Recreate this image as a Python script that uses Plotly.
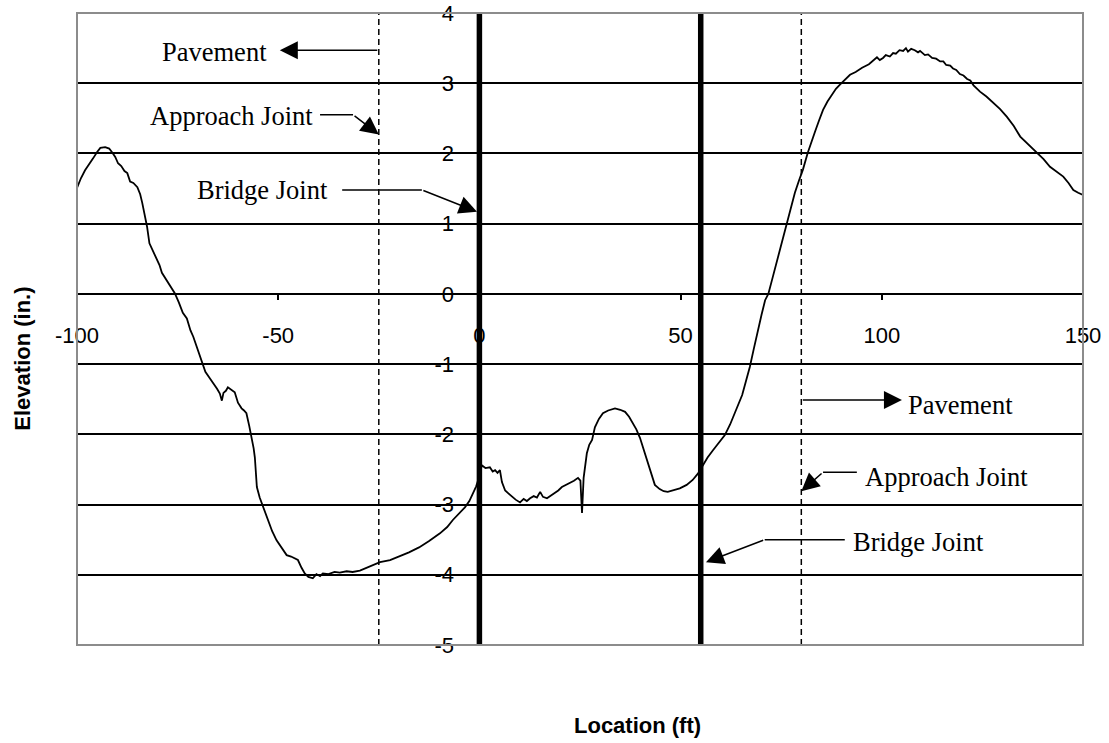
import plotly.graph_objects as go

# elevation profile
location_ft = [
    -100.0, -99.0, -98.0, -97.0, -96.0, -95.0, -94.2, -93.0, -92.0, -91.2,
    -90.5, -89.8, -89.0, -88.2, -87.5, -86.8, -86.0, -85.0, -84.3, -83.8,
    -83.2, -82.6, -82.0, -81.5, -80.8, -80.1, -79.5, -78.9, -78.0, -76.9,
    -75.7, -74.7, -73.7, -72.7, -71.8, -71.1, -70.2, -69.4, -68.8, -68.1,
    -67.0, -66.1, -65.2, -64.5, -64.0, -63.6, -63.0, -62.5, -61.7, -60.8,
    -60.0, -59.1, -58.5, -57.9, -57.2, -56.6, -56.1, -55.8, -55.5, -55.3,
    -54.6, -54.1, -53.4, -52.6, -51.5, -50.4, -49.2, -47.9, -46.8, -45.6,
    -45.1, -44.2, -43.4, -42.5, -41.4, -40.5, -39.6, -38.9, -37.5, -36.0,
    -34.7, -33.0, -31.5, -29.7, -28.0, -26.4, -24.7, -22.2, -20.0, -17.5,
    -15.0, -12.5, -9.8, -8.0, -6.6, -5.0, -3.6, -2.5, -1.6, -0.8,
    -0.3, 0.2, 0.6, 1.5, 2.6, 3.3, 3.9, 4.5, 5.1, 5.6,
    6.4, 7.2, 8.1, 9.0, 10.1, 11.0, 11.8, 12.6, 13.5, 14.3,
    15.1, 15.8, 16.8, 17.8, 18.8, 19.6, 20.5, 21.5, 22.5, 23.5,
    24.5, 25.1, 25.5, 25.9, 26.7, 27.3, 28.0, 28.7, 29.7, 30.7,
    32.0, 33.7, 35.0, 36.2, 37.2, 38.2, 39.0, 39.9, 40.8, 41.6,
    42.6, 43.6, 44.8, 45.8, 46.8, 48.0, 49.8, 51.5, 53.0, 54.3,
    55.5, 56.7, 58.0, 59.5, 61.0, 62.3, 63.5, 64.4, 65.3, 66.2,
    67.2, 68.2, 69.2, 70.1, 71.0, 71.8, 73.0, 74.2, 75.3, 76.4,
    77.4, 78.4, 79.4, 80.4, 81.6, 82.5, 83.4, 84.4, 85.4, 86.5,
    87.6, 88.6, 89.6, 90.8, 92.1, 93.5, 95.1, 96.8, 98.8, 99.5,
    100.3, 101.0, 102.0, 102.8, 103.5, 104.4, 105.3, 106.0, 106.5, 107.3,
    108.2, 109.0, 109.5, 110.7, 111.5, 112.5, 113.5, 114.5, 115.3, 116.0,
    117.0, 117.7, 118.5, 119.4, 120.3, 121.2, 122.0, 122.8, 124.4, 126.0,
    127.7, 129.4, 131.1, 132.8, 134.4, 136.5, 138.6, 140.2, 141.8, 143.5,
    145.1, 146.4, 147.6, 148.8, 150.0,
]
elevation_in = [
    1.51, 1.65, 1.76, 1.84, 1.93, 2.02, 2.08, 2.09, 2.07, 2.01,
    1.95, 1.86, 1.82, 1.75, 1.72, 1.60, 1.58, 1.52, 1.42, 1.30,
    1.12, 0.96, 0.72, 0.66, 0.58, 0.49, 0.41, 0.30, 0.22, 0.13,
    0.01, -0.12, -0.27, -0.35, -0.52, -0.61, -0.76, -0.90, -0.98, -1.11,
    -1.20, -1.27, -1.35, -1.42, -1.52, -1.41, -1.38, -1.33, -1.36, -1.40,
    -1.55, -1.63, -1.66, -1.70, -1.88, -2.04, -2.20, -2.33, -2.55, -2.75,
    -2.90, -2.98, -3.10, -3.22, -3.38, -3.51, -3.62, -3.72, -3.74, -3.78,
    -3.79, -3.90, -3.98, -4.03, -4.05, -3.99, -4.02, -3.98, -3.99, -3.96,
    -3.97, -3.95, -3.96, -3.94, -3.90, -3.87, -3.82, -3.79, -3.74, -3.68,
    -3.61, -3.52, -3.41, -3.32, -3.22, -3.13, -3.04, -2.95, -2.84, -2.74,
    -2.65, -2.52, -2.44, -2.48, -2.47, -2.53, -2.51, -2.55, -2.51, -2.68,
    -2.80, -2.84, -2.89, -2.93, -2.97, -2.92, -2.95, -2.91, -2.88, -2.90,
    -2.82, -2.89, -2.91, -2.87, -2.84, -2.80, -2.75, -2.72, -2.70, -2.66,
    -2.62, -2.66, -3.12, -2.62, -2.27, -2.15, -2.08, -1.90, -1.78, -1.70,
    -1.66, -1.63, -1.65, -1.68, -1.75, -1.84, -1.93, -2.05, -2.22, -2.37,
    -2.56, -2.72, -2.78, -2.81, -2.82, -2.80, -2.77, -2.72, -2.65, -2.56,
    -2.44, -2.33, -2.23, -2.12, -2.01, -1.86, -1.70, -1.57, -1.44, -1.25,
    -1.04, -0.78, -0.51, -0.30, -0.09, 0.00, 0.26, 0.53, 0.78, 1.03,
    1.24, 1.44, 1.61, 1.77, 2.01, 2.17, 2.31, 2.47, 2.62, 2.74,
    2.84, 2.92, 2.98, 3.05, 3.12, 3.16, 3.22, 3.27, 3.37, 3.33,
    3.36, 3.40, 3.38, 3.43, 3.42, 3.47, 3.46, 3.50, 3.45, 3.49,
    3.47, 3.44, 3.46, 3.40, 3.41, 3.36, 3.35, 3.31, 3.31, 3.26,
    3.25, 3.21, 3.19, 3.13, 3.11, 3.06, 3.04, 2.97, 2.88, 2.81,
    2.72, 2.63, 2.52, 2.39, 2.24, 2.12, 2.01, 1.92, 1.81, 1.74,
    1.67, 1.58, 1.48, 1.44, 1.41,
]

x_ticks = [-100, -50, 0, 50, 100, 150]
y_ticks = [-5, -4, -3, -2, -1, 0, 1, 2, 3, 4]
bridge_joints = [0, 55]
approach_joints = [-25, 80]

SERIF = "Liberation Serif"
SANS = "Liberation Sans"

fig = go.Figure()
fig.add_trace(go.Scatter(
    x=location_ft, y=elevation_in, mode="lines",
    line=dict(color="black", width=1.8), showlegend=False, hoverinfo="skip",
))

shapes = []
for xj in bridge_joints:
    shapes.append(dict(type="line", xref="x", yref="y", x0=xj, x1=xj, y0=-5, y1=4,
                       line=dict(color="black", width=5.5)))
for xj in approach_joints:
    shapes.append(dict(type="line", xref="x", yref="y", x0=xj, x1=xj, y0=-5, y1=4,
                       line=dict(color="black", width=1.5, dash="6px,4px")))

# plot border
shapes.append(dict(type="rect", xref="x domain", yref="y domain", x0=0, x1=1, y0=0, y1=1,
                   line=dict(color="#8c8c8c", width=2)))

# label text, arrow elbows and arrow tips
labels = [
    ("Pavement", -65.8, 3.44),
    ("Approach Joint", -61.7, 2.54),
    ("Bridge Joint", -54.0, 1.48),
    ("Pavement", 119.6, -1.58),
    ("Approach Joint", 116.1, -2.61),
    ("Bridge Joint", 109.0, -3.54),
]
elbows = [  # horizontal leader segments: x0, x1, y
    (-39.6, -31.4, 2.55),
    (-34.1, -14.3, 1.48),
    (93.8, 85.4, -2.54),
    (90.8, 70.9, -3.50),
]
arrows = [  # tail x, tail y, tip x, tip y
    (-25.0, 3.47, -49.6, 3.47),
    (-31.4, 2.55, -25.0, 2.27),
    (-14.3, 1.48, -0.6, 1.17),
    (80.0, -1.51, 105.0, -1.51),
    (85.4, -2.54, 80.0, -2.81),
    (70.9, -3.50, 56.3, -3.82),
]

for x0, x1, yy in elbows:
    shapes.append(dict(type="line", xref="x", yref="y", x0=x0, x1=x1, y0=yy, y1=yy,
                       line=dict(color="black", width=1.5)))

annotations = []
for txt, xx, yy in labels:
    annotations.append(dict(text=txt, x=xx, y=yy, xref="x", yref="y", showarrow=False,
                            xanchor="center", yanchor="middle",
                            font=dict(family=SERIF, size=26.5, color="black")))
for ax, ay, xx, yy in arrows:
    annotations.append(dict(text="", x=xx, y=yy, ax=ax, ay=ay, xref="x", yref="y",
                            axref="x", ayref="y", showarrow=True, arrowhead=2,
                            arrowsize=2.4, arrowwidth=1.5, arrowcolor="black",
                            standoff=0, startstandoff=0))

annotations.append(dict(text="<b>Elevation (in.)</b>", textangle=-90, x=-0.055, y=0.4525,
                        xref="paper", yref="paper", showarrow=False,
                        xanchor="center", yanchor="middle",
                        font=dict(family=SANS, size=22, color="black")))
annotations.append(dict(text="<b>Location (ft)</b>", x=0.557, y=-0.1266,
                        xref="paper", yref="paper", showarrow=False,
                        xanchor="center", yanchor="middle",
                        font=dict(family=SANS, size=22, color="black")))

fig.update_layout(
    width=1109, height=743,
    margin=dict(l=77, r=26, t=13, b=98, autoexpand=False),
    paper_bgcolor="white", plot_bgcolor="white",
    shapes=shapes, annotations=annotations,
    xaxis=dict(
        range=[-100, 150], tickvals=x_ticks, ticktext=[str(v) for v in x_ticks],
        showgrid=False, zeroline=False, automargin=False,
        showline=True, linecolor="black", linewidth=1.8,
        anchor="free", position=5 / 9,
        ticks="outside", ticklen=5, tickwidth=1.5, tickcolor="black",
        tickfont=dict(family=SANS, size=22, color="black"), ticklabelstandoff=17,
    ),
    yaxis=dict(
        range=[-5, 4], tickvals=y_ticks, ticktext=[str(v) for v in y_ticks],
        showgrid=True, gridcolor="black", gridwidth=1.8,
        zeroline=False, showline=False, automargin=False,
        anchor="free", position=0.4,
        ticks="outside", ticklen=5, tickwidth=1.5, tickcolor="black",
        tickfont=dict(family=SANS, size=22, color="black"), ticklabelstandoff=16,
    ),
)

# drop the default page margin so the figure sits at the window origin
fig.write_html("out.html", config={"displayModeBar": False},
               post_script="document.body.style.margin='0';")
